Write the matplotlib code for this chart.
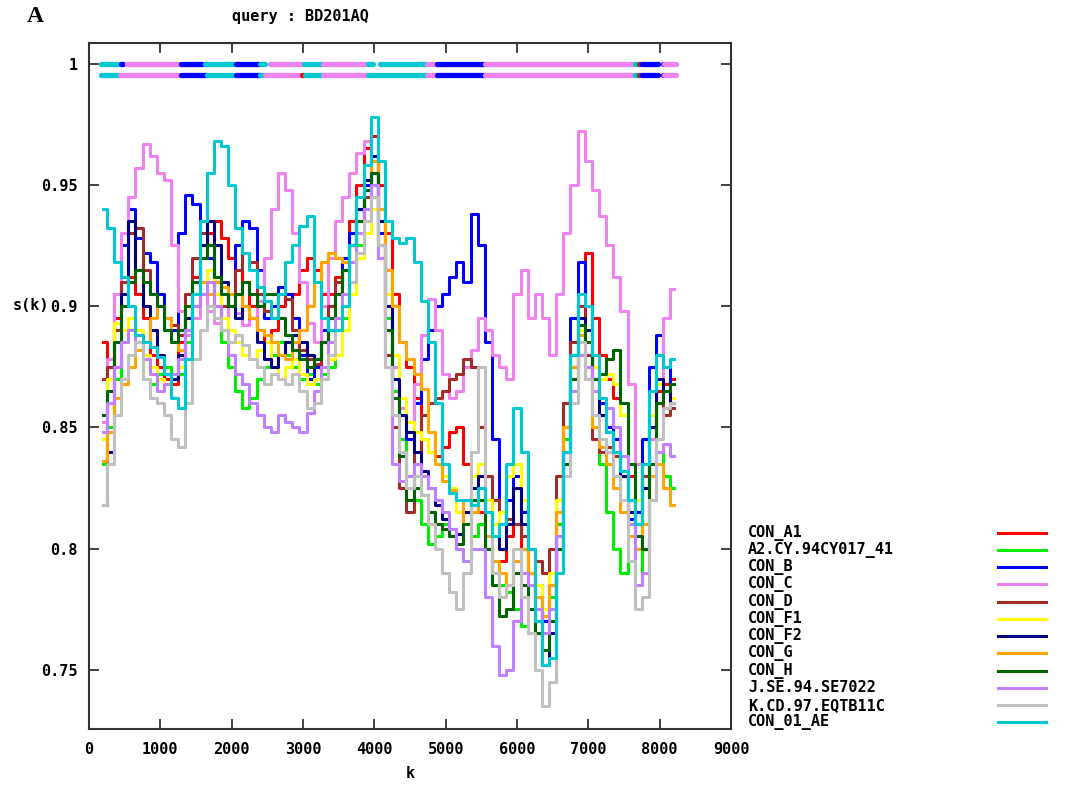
import matplotlib
matplotlib.use("Agg")
import matplotlib.pyplot as plt
from matplotlib.lines import Line2D

# window positions (k) of the similarity profile
k = list(range(200, 8201, 100))

names = ["CON_A1", "A2.CY.94CY017_41", "CON_B", "CON_C", "CON_D", "CON_F1",
         "CON_F2", "CON_G", "CON_H", "J.SE.94.SE7022", "K.CD.97.EQTB11C", "CON_01_AE"]
colors = ["#ff0000", "#00ee00", "#0000ff", "#ee82ee", "#a52a2a", "#ffff00",
          "#000080", "#ffa500", "#006400", "#c080ff", "#c0c0c0", "#00c8d0"]

con_a1 = [0.885, 0.878, 0.895, 0.91, 0.912, 0.905, 0.895, 0.88, 0.875, 0.87,
          0.868, 0.885, 0.9, 0.912, 0.92, 0.93, 0.935, 0.928, 0.92, 0.915,
          0.91, 0.9, 0.89, 0.885, 0.89, 0.9, 0.905, 0.905, 0.915, 0.92,
          0.915, 0.905, 0.905, 0.912, 0.92, 0.935, 0.95, 0.965, 0.97, 0.95,
          0.93, 0.905, 0.885, 0.875, 0.862, 0.845, 0.84, 0.838, 0.842, 0.848,
          0.85, 0.835, 0.825, 0.815, 0.8, 0.79, 0.795, 0.805, 0.81, 0.8,
          0.79, 0.78, 0.775, 0.785, 0.815, 0.85, 0.885, 0.905, 0.922, 0.895,
          0.88, 0.87, 0.862, 0.855, 0.83, 0.815, 0.83, 0.85, 0.865, 0.868,
          0.87]
a2_cy = [0.835, 0.85, 0.87, 0.885, 0.89, 0.885, 0.87, 0.868, 0.872, 0.875,
         0.87, 0.872, 0.885, 0.9, 0.91, 0.915, 0.9, 0.885, 0.875, 0.865,
         0.858, 0.862, 0.87, 0.875, 0.88, 0.885, 0.88, 0.875, 0.87, 0.872,
         0.868, 0.872, 0.875, 0.88, 0.895, 0.91, 0.925, 0.94, 0.95, 0.925,
         0.895, 0.865, 0.845, 0.83, 0.82, 0.81, 0.802, 0.805, 0.81, 0.805,
         0.8, 0.795, 0.805, 0.81, 0.8, 0.79, 0.785, 0.782, 0.775, 0.768,
         0.765, 0.77, 0.765, 0.78, 0.81, 0.845, 0.875, 0.89, 0.875, 0.85,
         0.835, 0.815, 0.8, 0.79, 0.795, 0.785, 0.81, 0.835, 0.84, 0.83,
         0.825]
con_b = [0.845, 0.875, 0.905, 0.925, 0.94, 0.928, 0.922, 0.918, 0.905, 0.895,
         0.89, 0.93, 0.946, 0.942, 0.935, 0.92, 0.905, 0.895, 0.905, 0.925,
         0.935, 0.932, 0.915, 0.895, 0.9, 0.908, 0.905, 0.895, 0.88, 0.87,
         0.875, 0.89, 0.9, 0.91, 0.92, 0.93, 0.94, 0.95, 0.96, 0.93,
         0.9, 0.87, 0.855, 0.845, 0.86, 0.878, 0.89, 0.9, 0.905, 0.912,
         0.918, 0.91, 0.938, 0.925, 0.885, 0.845, 0.815, 0.82, 0.83, 0.815,
         0.8, 0.785, 0.77, 0.785, 0.82, 0.86, 0.895, 0.918, 0.9, 0.875,
         0.86, 0.85, 0.845, 0.83, 0.812, 0.815, 0.845, 0.875, 0.888, 0.875,
         0.86]
con_c = [0.852, 0.878, 0.905, 0.93, 0.945, 0.957, 0.967, 0.962, 0.955, 0.952,
         0.925, 0.898, 0.888, 0.895, 0.905, 0.898, 0.893, 0.89, 0.9, 0.897,
         0.892, 0.895, 0.902, 0.92, 0.94, 0.955, 0.948, 0.93, 0.91, 0.893,
         0.885, 0.9, 0.92, 0.935, 0.945, 0.955, 0.963, 0.968, 0.96, 0.935,
         0.905, 0.875, 0.858, 0.852, 0.868, 0.888, 0.903, 0.89, 0.872, 0.862,
         0.865, 0.875, 0.882, 0.895, 0.89, 0.88, 0.875, 0.87, 0.905, 0.915,
         0.895, 0.905, 0.895, 0.88, 0.905, 0.93, 0.95, 0.972, 0.96, 0.948,
         0.937, 0.925, 0.912, 0.898, 0.868, 0.835, 0.825, 0.845, 0.87, 0.895,
         0.907]
con_d = [0.87, 0.875, 0.89, 0.91, 0.93, 0.932, 0.915, 0.905, 0.9, 0.895,
         0.892, 0.888, 0.905, 0.92, 0.93, 0.925, 0.91, 0.9, 0.905, 0.915,
         0.922, 0.918, 0.905, 0.898, 0.895, 0.905, 0.903, 0.89, 0.882, 0.878,
         0.876, 0.885, 0.9, 0.91, 0.915, 0.925, 0.935, 0.945, 0.955, 0.92,
         0.88, 0.85, 0.825, 0.815, 0.84, 0.855, 0.86, 0.862, 0.865, 0.87,
         0.872, 0.878, 0.875, 0.85, 0.83, 0.82, 0.815, 0.812, 0.81, 0.805,
         0.8, 0.795, 0.79, 0.8, 0.83, 0.86, 0.885, 0.9, 0.88, 0.845,
         0.84, 0.842, 0.838, 0.83, 0.82, 0.81, 0.83, 0.85, 0.86, 0.855,
         0.858]
con_f1 = [0.845, 0.87, 0.893, 0.89, 0.895, 0.89, 0.88, 0.875, 0.87, 0.868,
          0.87, 0.875, 0.89, 0.9, 0.91, 0.915, 0.905, 0.895, 0.89, 0.885,
          0.88, 0.878, 0.882, 0.885, 0.875, 0.87, 0.875, 0.878, 0.872, 0.868,
          0.87, 0.875, 0.878, 0.88, 0.89, 0.905, 0.92, 0.93, 0.94, 0.925,
          0.905, 0.88, 0.862, 0.852, 0.848, 0.845, 0.84, 0.835, 0.83, 0.825,
          0.815, 0.82, 0.83, 0.835, 0.82, 0.81, 0.815, 0.83, 0.835, 0.82,
          0.8, 0.785, 0.775, 0.79, 0.82, 0.85, 0.875, 0.89, 0.885, 0.875,
          0.87, 0.872, 0.868, 0.855, 0.835, 0.82, 0.835, 0.855, 0.868, 0.865,
          0.862]
con_f2 = [0.818, 0.84, 0.875, 0.905, 0.935, 0.915, 0.9, 0.89, 0.88, 0.872,
          0.87, 0.88, 0.895, 0.91, 0.925, 0.935, 0.925, 0.91, 0.9, 0.895,
          0.9, 0.895, 0.885, 0.878, 0.875, 0.88, 0.885, 0.888, 0.885, 0.88,
          0.878, 0.885, 0.895, 0.905, 0.915, 0.925, 0.94, 0.952, 0.962, 0.935,
          0.9, 0.87, 0.855, 0.848, 0.84, 0.832, 0.825, 0.818, 0.812, 0.808,
          0.806, 0.815, 0.825, 0.83, 0.815, 0.805, 0.8, 0.81, 0.825, 0.81,
          0.79, 0.77, 0.752, 0.765, 0.8, 0.84, 0.87, 0.895, 0.89, 0.87,
          0.855, 0.848, 0.84, 0.83, 0.815, 0.805, 0.825, 0.85, 0.87, 0.865,
          0.86]
con_g = [0.836, 0.848, 0.862, 0.868, 0.875, 0.882, 0.885, 0.895, 0.9, 0.895,
         0.885, 0.882, 0.89, 0.9, 0.91, 0.905, 0.91, 0.908, 0.905, 0.905,
         0.9, 0.895, 0.89, 0.888, 0.885, 0.88, 0.878, 0.885, 0.89, 0.9,
         0.91, 0.918, 0.922, 0.92, 0.918, 0.925, 0.935, 0.948, 0.96, 0.94,
         0.915, 0.9, 0.885, 0.878, 0.872, 0.866, 0.848, 0.835, 0.828, 0.824,
         0.82, 0.81, 0.815, 0.82, 0.805, 0.795, 0.79, 0.785, 0.795, 0.8,
         0.79, 0.78, 0.772, 0.785, 0.815, 0.85, 0.875, 0.888, 0.87, 0.85,
         0.842, 0.835, 0.825, 0.815, 0.805, 0.8, 0.81, 0.83, 0.835, 0.825,
         0.818]
con_h = [0.855, 0.865, 0.885, 0.9, 0.91, 0.915, 0.91, 0.905, 0.9, 0.89,
         0.885, 0.89, 0.9, 0.91, 0.92, 0.925, 0.912, 0.905, 0.9, 0.905,
         0.91, 0.905, 0.9, 0.905, 0.905, 0.895, 0.888, 0.882, 0.878, 0.875,
         0.878, 0.885, 0.895, 0.905, 0.915, 0.925, 0.935, 0.948, 0.955, 0.925,
         0.89, 0.862, 0.838, 0.82, 0.825, 0.822, 0.815, 0.81, 0.808, 0.805,
         0.802, 0.81, 0.82, 0.82, 0.8, 0.785, 0.772, 0.775, 0.79, 0.785,
         0.775, 0.765, 0.758, 0.77, 0.8, 0.835, 0.87, 0.892, 0.885, 0.87,
         0.872, 0.878, 0.882, 0.86, 0.835, 0.805, 0.8, 0.835, 0.86, 0.865,
         0.868]
j_se = [0.848, 0.86, 0.875, 0.885, 0.89, 0.885, 0.878, 0.872, 0.865, 0.868,
        0.872, 0.878, 0.89, 0.9, 0.905, 0.91, 0.9, 0.89, 0.88, 0.872,
        0.868, 0.86, 0.855, 0.85, 0.848, 0.855, 0.852, 0.85, 0.848, 0.856,
        0.865, 0.875, 0.885, 0.895, 0.905, 0.918, 0.93, 0.94, 0.95, 0.92,
        0.875, 0.835, 0.828, 0.83, 0.835, 0.83, 0.825, 0.82, 0.815, 0.808,
        0.8, 0.795, 0.8, 0.8, 0.78, 0.76, 0.748, 0.75, 0.77, 0.79,
        0.785, 0.775, 0.765, 0.775, 0.805, 0.84, 0.865, 0.88, 0.875, 0.865,
        0.862, 0.858, 0.85, 0.838, 0.81, 0.785, 0.79, 0.82, 0.84, 0.843,
        0.838]
k_cd = [0.818, 0.835, 0.855, 0.87, 0.88, 0.885, 0.87, 0.862, 0.86, 0.855,
        0.845, 0.842, 0.86, 0.878, 0.89, 0.9, 0.895, 0.89, 0.885, 0.888,
        0.884, 0.878, 0.875, 0.868, 0.872, 0.87, 0.868, 0.872, 0.865, 0.858,
        0.86, 0.87, 0.88, 0.89, 0.9, 0.91, 0.922, 0.935, 0.945, 0.925,
        0.875, 0.855, 0.84, 0.825, 0.83, 0.822, 0.81, 0.8, 0.79, 0.782,
        0.775, 0.79, 0.84, 0.875, 0.815, 0.79, 0.78, 0.785, 0.8, 0.78,
        0.765, 0.75, 0.735, 0.745, 0.79, 0.83, 0.86, 0.885, 0.87, 0.855,
        0.845, 0.84, 0.83, 0.82, 0.795, 0.775, 0.78, 0.82, 0.845, 0.858,
        0.86]
con_01_ae = [0.94, 0.932, 0.918, 0.912, 0.9, 0.888, 0.885, 0.883, 0.879, 0.872,
             0.862, 0.858, 0.878, 0.905, 0.935, 0.955, 0.968, 0.966, 0.95, 0.932,
             0.922, 0.915, 0.908, 0.902, 0.895, 0.905, 0.918, 0.925, 0.933, 0.937,
             0.91, 0.895, 0.89, 0.89, 0.9, 0.925, 0.945, 0.958, 0.978, 0.96,
             0.935, 0.928, 0.926, 0.928, 0.918, 0.902, 0.885, 0.86, 0.835, 0.823,
             0.82, 0.82, 0.818, 0.825, 0.815, 0.805, 0.81, 0.835, 0.858, 0.84,
             0.8, 0.77, 0.752, 0.755, 0.79, 0.84, 0.88, 0.905, 0.9, 0.88,
             0.862, 0.848, 0.84, 0.832, 0.82, 0.81, 0.835, 0.865, 0.88, 0.875,
             0.878]

series = [con_a1, a2_cy, con_b, con_c, con_d, con_f1,
          con_f2, con_g, con_h, j_se, k_cd, con_01_ae]

# best-match strips at the top: (start k, end k, index into names)
strip1_y = 1.0
strip1 = [(170, 440, 11), (450, 475, 2), (530, 1275, 3), (1290, 1585, 2),
          (1625, 2045, 11), (2060, 2385, 2), (2400, 2470, 11), (2540, 2985, 3),
          (3015, 3280, 11), (3280, 3870, 3), (3915, 3985, 11), (4080, 4740, 11),
          (4740, 4880, 3), (4880, 5555, 2), (5555, 7660, 3), (7660, 7700, 11),
          (7715, 7740, 4), (7756, 7980, 2), (8040, 8060, 2), (8064, 8230, 3)]
strip2_y = 0.9955
strip2 = [(170, 435, 11), (435, 1275, 3), (1290, 1655, 2), (1655, 2045, 11),
          (2060, 2400, 2), (2400, 2470, 11), (2470, 2990, 3), (2990, 3010, 0),
          (3030, 3280, 11), (3280, 3910, 3), (3910, 4740, 11), (4740, 4880, 3),
          (4880, 5555, 2), (5555, 7660, 3), (7660, 7700, 11), (7715, 7740, 4),
          (7756, 7980, 2), (8040, 8060, 2), (8064, 8230, 3)]

xticks = [0, 1000, 2000, 3000, 4000, 5000, 6000, 7000, 8000, 9000]
yticks = [0.75, 0.8, 0.85, 0.9, 0.95, 1.0]
ytick_labels = ["0.75", "0.8", "0.85", "0.9", "0.95", "1"]

mono = "DejaVu Sans Mono"
fs = 11
W, H = 1065, 792
fig = plt.figure(figsize=(W / 100, H / 100), dpi=100)
ax = fig.add_axes([89 / W, (H - 728.5) / H, 642 / W, 686 / H])

for vals, c in zip(series, colors):
    ax.plot(k, vals, color=c, lw=2.2, drawstyle="steps-mid")

for y, strip in [(strip1_y, strip1), (strip2_y, strip2)]:
    for s, e, i in strip:
        ax.plot([s, e], [y, y], color=colors[i], lw=3.8, solid_capstyle="round")

ax.set_xlim(0, 9000)
ax.set_ylim(0.7258, 1.0087)
ax.set_xticks(xticks)
ax.set_yticks(yticks)
ax.set_yticklabels(ytick_labels)
ax.tick_params(direction="in", top=True, right=True, length=7, width=1.3,
               color="#333333", labelsize=fs)
ax.tick_params(axis="x", pad=10)
ax.tick_params(axis="y", pad=8)
for lab in ax.get_xticklabels() + ax.get_yticklabels():
    lab.set_fontfamily(mono)
    lab.set_fontweight("bold")
for sp in ax.spines.values():
    sp.set_color("#333333")
    sp.set_linewidth(1.5)

fig.text(410 / W, 1 - 773 / H, "k", family=mono, weight="bold", size=fs,
         ha="center", va="center")
fig.text(31 / W, 1 - 305 / H, "s(k)", family=mono, weight="bold", size=fs,
         ha="center", va="center")
fig.text(232 / W, 1 - 17 / H, "query : BD201AQ", family=mono, weight="bold",
         size=fs, ha="left", va="center")
fig.text(27 / W, 1 - 17 / H, "A", family="Liberation Serif", weight="bold",
         size=17, ha="left", va="center")

# key on the right: label text, then a sample line
for i, (name, c) in enumerate(zip(names, colors)):
    y = 1 - (532.7 + i * 17.24) / H
    fig.text(748 / W, y, name, family=mono, weight="bold", size=fs,
             ha="left", va="center")
    fig.add_artist(Line2D([998 / W, 1046 / W], [y, y], color=c, lw=2.2,
                          transform=fig.transFigure))

fig.savefig("out.png", dpi=100)
